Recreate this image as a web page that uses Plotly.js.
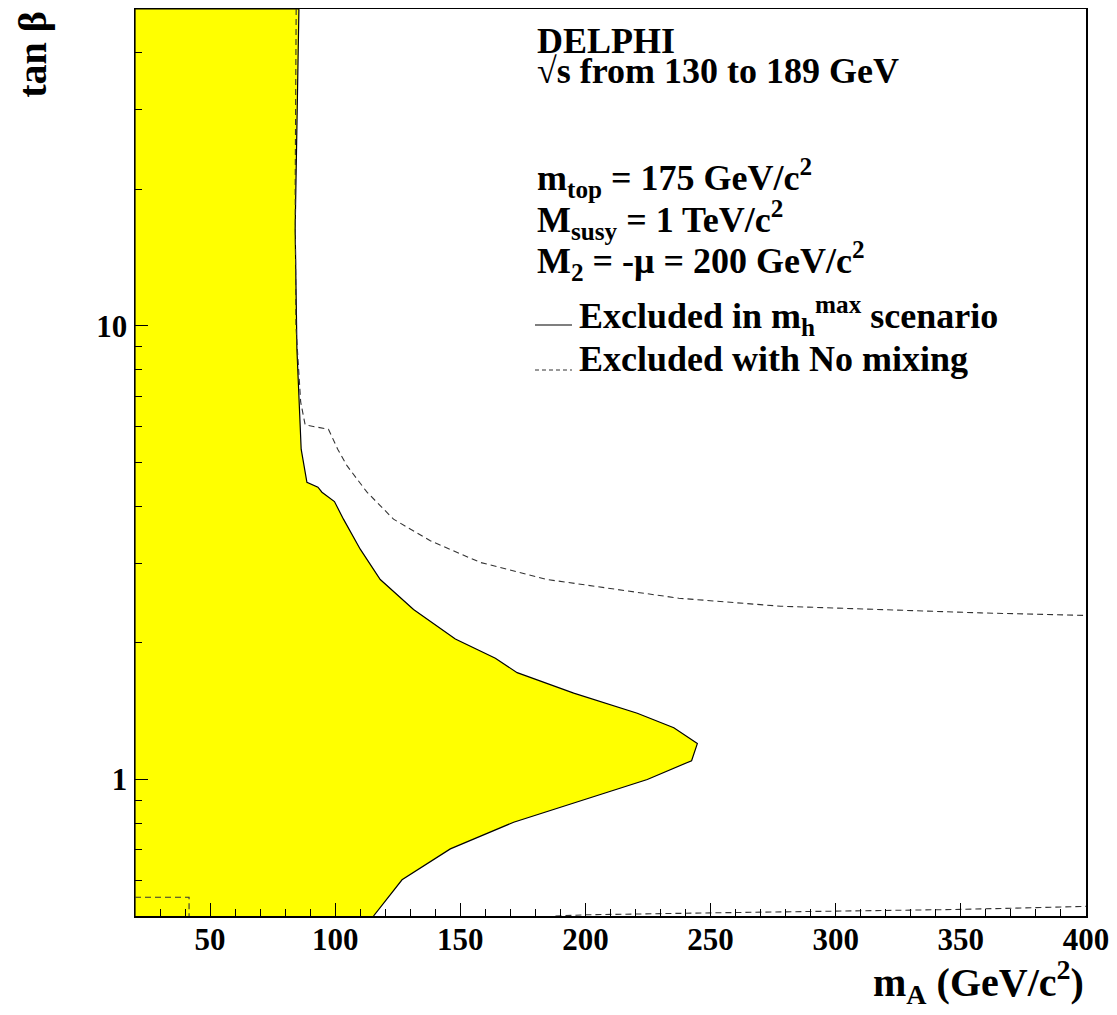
<!DOCTYPE html>
<html>
<head>
<meta charset="utf-8">
<script src="https://cdn.plot.ly/plotly-3.0.1.min.js"></script>
<style>
  html, body { margin: 0; padding: 0; background: #ffffff; }
  #myDiv { width: 1117px; height: 1015px; }
</style>
</head>
<body>
<div id="myDiv"></div>
<script>
// m_h-max exclusion boundary (solid), read from top to bottom
var mhmaxX = [85.5, 84.8, 84.0, 84.7, 86.4, 88.7, 93.1, 94.7, 99.7, 103.3, 110, 118, 131.3, 148, 164, 172.7, 195.3, 220.7, 235.3, 244.7, 242.4, 224.7, 171.3, 146, 126.7, 115.3];
var mhmaxY = [50, 31.7, 16.4, 8.9, 5.35, 4.52, 4.41, 4.30, 4.10, 3.75, 3.22, 2.76, 2.37, 2.04, 1.85, 1.72, 1.55, 1.40, 1.30, 1.20, 1.10, 1.0, 0.805, 0.703, 0.601, 0.5];

// no mixing exclusion (dashed), upper branch
var noMixUpperX = [84.4, 84.0, 84.3, 85.2, 86.2, 88, 97.3, 101, 104.7, 112.7, 123.3, 138, 158, 184.7, 211.3, 237.3, 278, 318, 358, 400];
var noMixUpperY = [50, 20, 10, 8.4, 6.8, 6.05, 5.92, 5.35, 4.92, 4.30, 3.75, 3.36, 3.01, 2.76, 2.63, 2.51, 2.41, 2.37, 2.33, 2.30];

// no mixing exclusion (dashed), low tan beta pieces
var noMixLowX = [188, 200, 250, 300, 350, 400];
var noMixLowY = [0.5, 0.503, 0.508, 0.512, 0.517, 0.525];
var noMixCornerX = [20, 41.6, 41.6];
var noMixCornerY = [0.55, 0.55, 0.5];

// axes
var xRange = [20, 400];
var yRange = [0.5, 50];
var yTickVals = [1, 10];
var yTickText = ['1', '10'];
var yMinorVals = [0.6, 0.7, 0.8, 0.9, 2, 3, 4, 5, 6, 7, 8, 9, 20, 30, 40];

var serif = 'Liberation Serif, Times New Roman, serif';

// NOTE: fill polygon closes along the left edge of the plot
var fillX = [xRange[0], xRange[0]].concat(mhmaxX);
var fillY = [yRange[0], yRange[1]].concat(mhmaxY);

var trace = [];

trace.push({
  x: fillX,
  y: fillY,
  type: 'scatter',
  mode: 'lines',
  fill: 'toself',
  fillcolor: '#ffff00',
  line: { color: '#000000', width: 1.2 },
  hoverinfo: 'skip',
});

var dashLine = { color: '#333333', width: 1.1, dash: '6px,4px' };

trace.push({ x: noMixUpperX, y: noMixUpperY, type: 'scatter', mode: 'lines', line: dashLine });
trace.push({ x: noMixLowX, y: noMixLowY, type: 'scatter', mode: 'lines', line: dashLine });
trace.push({ x: noMixCornerX, y: noMixCornerY, type: 'scatter', mode: 'lines', line: dashLine });

function textNote(text, x, y) {
  return {
    xref: 'paper',
    yref: 'paper',
    x: x,
    y: y,
    xanchor: 'left',
    yanchor: 'middle',
    text: text,
    showarrow: false,
    font: { family: serif, size: 36, color: '#000000', weight: 700 },
  };
}

var layout = {
  width: 1117,
  height: 1015,
  margin: { l: 135, r: 31, t: 9, b: 99 },
  paper_bgcolor: '#ffffff',
  plot_bgcolor: '#ffffff',
  showlegend: false,
  xaxis: {
    range: xRange,
    tick0: 0,
    dtick: 50,
    ticks: 'inside',
    ticklen: 13,
    tickwidth: 1,
    tickcolor: '#000000',
    showline: true,
    mirror: true,
    linecolor: '#000000',
    linewidth: 1.5,
    showgrid: false,
    zeroline: false,
    ticklabelstandoff: -5,
    tickfont: { family: serif, size: 31, color: '#000000', weight: 700 },
    minor: { tick0: 0, dtick: 10, ticks: 'inside', ticklen: 7, tickcolor: '#000000', showgrid: false },
  },
  yaxis: {
    type: 'log',
    range: [Math.log10(yRange[0]), Math.log10(yRange[1])],
    tickmode: 'array',
    tickvals: yTickVals,
    ticktext: yTickText,
    ticks: 'inside',
    ticklen: 13,
    tickwidth: 1,
    tickcolor: '#000000',
    showline: true,
    mirror: true,
    linecolor: '#000000',
    linewidth: 1.5,
    showgrid: false,
    zeroline: false,
    tickfont: { family: serif, size: 31, color: '#000000', weight: 700 },
    minor: { tickmode: 'array', tickvals: yMinorVals, ticks: 'inside', ticklen: 7, tickcolor: '#000000', showgrid: false },
  },
  annotations: [
    textNote('DELPHI', 0.4206, 0.9647),
    textNote('√s from 130 to 189 GeV', 0.4206, 0.9317),
    textNote('m<sub>top</sub> = 175 GeV/c<sup>2</sup>', 0.4206, 0.8137),
    textNote('M<sub>susy</sub> = 1 TeV/c<sup>2</sup>', 0.4206, 0.7674),
    textNote('M<sub>2</sub> = -μ = 200 GeV/c<sup>2</sup>', 0.4206, 0.7222),
    textNote('Excluded in m<sub>h</sub><sup>max</sup> scenario', 0.4648, 0.6618),
    textNote('Excluded with No mixing', 0.4648, 0.6143),
    {
      xref: 'paper', yref: 'paper', x: 1, y: -0.0728, xanchor: 'right', yanchor: 'middle',
      text: 'm<sub>A</sub> (GeV/c<sup>2</sup>)', showarrow: false,
      font: { family: serif, size: 40, color: '#000000', weight: 700 },
    },
    {
      xref: 'paper', yref: 'paper', x: -0.108, y: 1, xanchor: 'center', yanchor: 'top',
      text: 'tan β', textangle: -90, showarrow: false,
      font: { family: serif, size: 40, color: '#000000', weight: 700 },
    },
  ],
  shapes: [
    // legend samples
    { type: 'line', xref: 'paper', yref: 'paper', x0: 0.4206, x1: 0.4595, y0: 0.6516, y1: 0.6516, line: { color: '#000000', width: 1.2 } },
    { type: 'line', xref: 'paper', yref: 'paper', x0: 0.4206, x1: 0.4595, y0: 0.602, y1: 0.602, line: { color: '#333333', width: 1.1, dash: '4px,3px' } },
  ],
};

var config = { staticPlot: true, displayModeBar: false };

Plotly.newPlot('myDiv', trace, layout, config);
</script>
</body>
</html>
